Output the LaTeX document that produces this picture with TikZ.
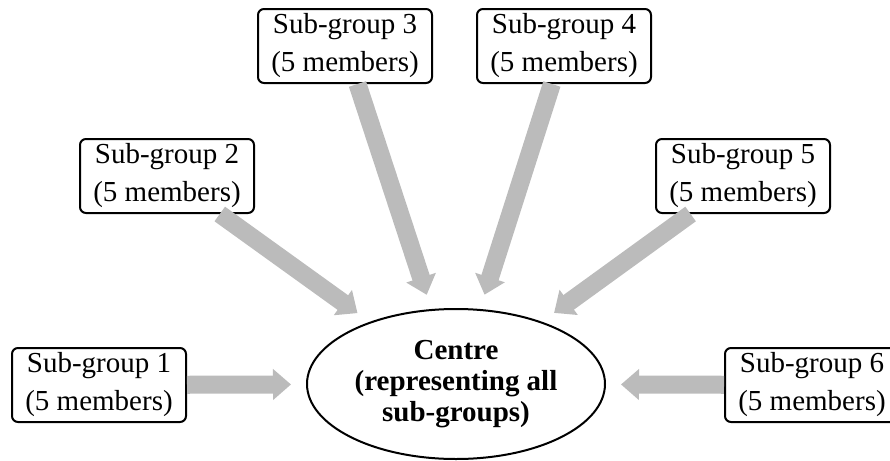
\documentclass[tikz,border=0pt]{standalone}
\usepackage{fontspec}
\setmainfont{Liberation Serif}
\usetikzlibrary{arrows.meta,shapes.geometric}
\definecolor{arrowgrey}{RGB}{187,187,187}
\tikzset{
	groupbox/.style={draw, line width=1pt, rounded corners=3pt, minimum width=87pt, minimum height=37pt, align=center, inner sep=0pt, font=\fontsize{14.5}{19}\selectfont},
	centrenode/.style={draw, ellipse, line width=1pt, minimum width=149pt, minimum height=75pt, align=center, inner sep=0pt, font=\fontsize{14.5}{15.5}\selectfont\bfseries},
	fatarrow/.style={draw=arrowgrey, line width=9pt, -{Triangle[width=15pt,length=9pt]}, shorten >=7.5pt}
}
\begin{document}
\begin{tikzpicture}[x=0.5pt, y=-0.5pt]
			%%%%% START %%%%%
			
			\useasboundingbox (0, 0) rectangle (890, 461);
			
			\node[centrenode] (centre) at (456, 384) {Centre\\(representing all\\sub-groups)};
			
			\node[groupbox] (sg1) at (99, 385) {Sub-group 1\\(5 members)};
			\node[groupbox] (sg2) at (167, 176) {Sub-group 2\\(5 members)};
			\node[groupbox] (sg3) at (345, 46) {Sub-group 3\\(5 members)};
			\node[groupbox] (sg4) at (564, 46) {Sub-group 4\\(5 members)};
			\node[groupbox] (sg5) at (743, 176) {Sub-group 5\\(5 members)};
			\node[groupbox] (sg6) at (812, 385) {Sub-group 6\\(5 members)};
			
			\draw[fatarrow] (sg1) -- (centre);
			\draw[fatarrow] (sg2) -- (centre);
			\draw[fatarrow] (sg3) -- (centre);
			\draw[fatarrow] (sg4) -- (centre);
			\draw[fatarrow] (sg5) -- (centre);
			\draw[fatarrow] (sg6) -- (centre);
			
			%%%%% END %%%%%
		\end{tikzpicture}
\end{document}
